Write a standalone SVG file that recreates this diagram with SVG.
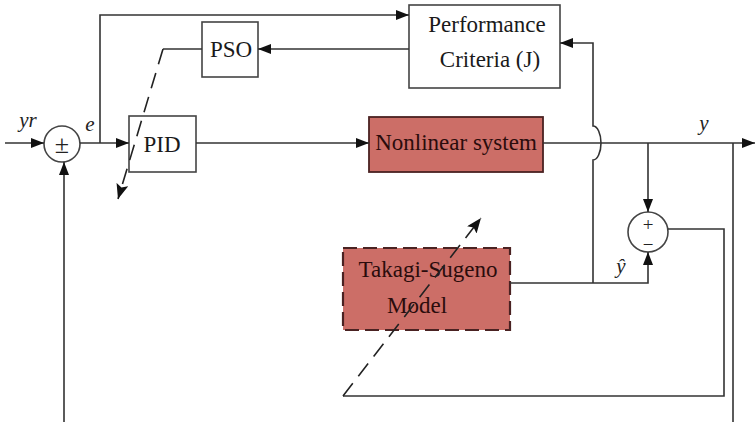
<svg xmlns="http://www.w3.org/2000/svg" width="756" height="422" viewBox="0 0 756 422">
<style>
.ln{fill:none;stroke:#333;stroke-width:1.6}
.dash{fill:none;stroke:#222;stroke-width:1.6;stroke-dasharray:16 9}
.box{fill:#fff;stroke:#444;stroke-width:1.6}
.red{fill:#cc6e67;stroke:#4a2222;stroke-width:1.8}
.tsbox{fill:#cc6e67;stroke:#4a2222;stroke-width:2.2;stroke-dasharray:14 6}
.t{font-family:"Liberation Serif","Times New Roman",serif;font-size:23px;fill:#1a1a1a;text-anchor:middle}
.t2{font-family:"Liberation Serif","Times New Roman",serif;font-size:23px;fill:#2a0c0c;text-anchor:middle}
.it{font-family:"Liberation Serif","Times New Roman",serif;font-size:21px;font-style:italic;fill:#222;text-anchor:middle}
.sg{font-family:"Liberation Serif","Times New Roman",serif;fill:#222;text-anchor:middle}
</style>
<defs>
<marker id="ar" markerUnits="userSpaceOnUse" markerWidth="14" markerHeight="10" refX="13" refY="5" orient="auto">
<path d="M0,0 L13,5 L0,10 z" fill="#111"/>
</marker>
<marker id="ar2" markerUnits="userSpaceOnUse" markerWidth="16" markerHeight="12" refX="15" refY="6" orient="auto">
<path d="M0,0 L15,6 L0,12 L3,6 z" fill="#111"/>
</marker>
</defs>
<g id="sum1">
<circle cx="62" cy="144" r="18" class="box"/>
<text class="sg" x="62" y="153" font-size="26">±</text>
</g>
<g id="pid">
<rect x="129" y="116" width="67" height="56" class="box"/>
<text class="t" x="162" y="152">PID</text>
</g>
<g id="pso">
<rect x="202" y="22" width="56" height="55" class="box"/>
<text class="t" x="231" y="57">PSO</text>
</g>
<g id="criteria">
<rect x="409" y="5" width="151" height="83" class="box"/>
<text class="t" x="487" y="32">Performance</text>
<text class="t" x="490" y="67">Criteria (J)</text>
</g>
<g id="nonlinear">
<rect x="369" y="117" width="174" height="55" class="red"/>
<text class="t2" x="456" y="150">Nonlinear system</text>
</g>
<g id="ts">
<rect x="343" y="248" width="167" height="82" class="tsbox"/>
<text class="t2" x="428" y="277">Takagi-Sugeno</text>
<text class="t2" x="417" y="313">Model</text>
</g>
<g id="sum2">
<circle cx="648" cy="232" r="20" class="box"/>
<text class="sg" x="648" y="231" font-size="19">+</text>
<text class="sg" x="648" y="251" font-size="19">−</text>
</g>
<g id="labels">
<text class="it" x="28" y="127">yr</text>
<text class="it" x="90" y="131">e</text>
<text class="it" x="704" y="130">y</text>
<text class="it" x="621" y="273">ŷ</text>
</g>
<g id="connectors">
<path class="ln" d="M5,143 H44" marker-end="url(#ar)"/>
<path class="ln" d="M80,143 H129" marker-end="url(#ar)"/>
<path class="ln" d="M100,143 V15 H409" marker-end="url(#ar)"/>
<path class="ln" d="M196,143 H369" marker-end="url(#ar)"/>
<path class="ln" d="M543,143 H755" marker-end="url(#ar)"/>
<path class="ln" d="M648,143 V212" marker-end="url(#ar)"/>
<path class="ln" d="M510,283 H648 V252" marker-end="url(#ar)"/>
<path class="ln" d="M593,283 V160 A8,17 0 0 0 593,126 V43 H560" marker-end="url(#ar)"/>
<path class="ln" d="M409,49 H258" marker-end="url(#ar)"/>
<path class="ln" d="M202,49 H163"/>
<path class="dash" d="M163,49 L118,199" marker-end="url(#ar2)"/>
<path class="ln" d="M668,229 H724 V396 H343"/>
<path class="dash" d="M343,396 L481,218" marker-end="url(#ar2)"/>
<path class="ln" d="M733,143 V440 H64 V162" marker-end="url(#ar)"/>
</g>
</svg>
